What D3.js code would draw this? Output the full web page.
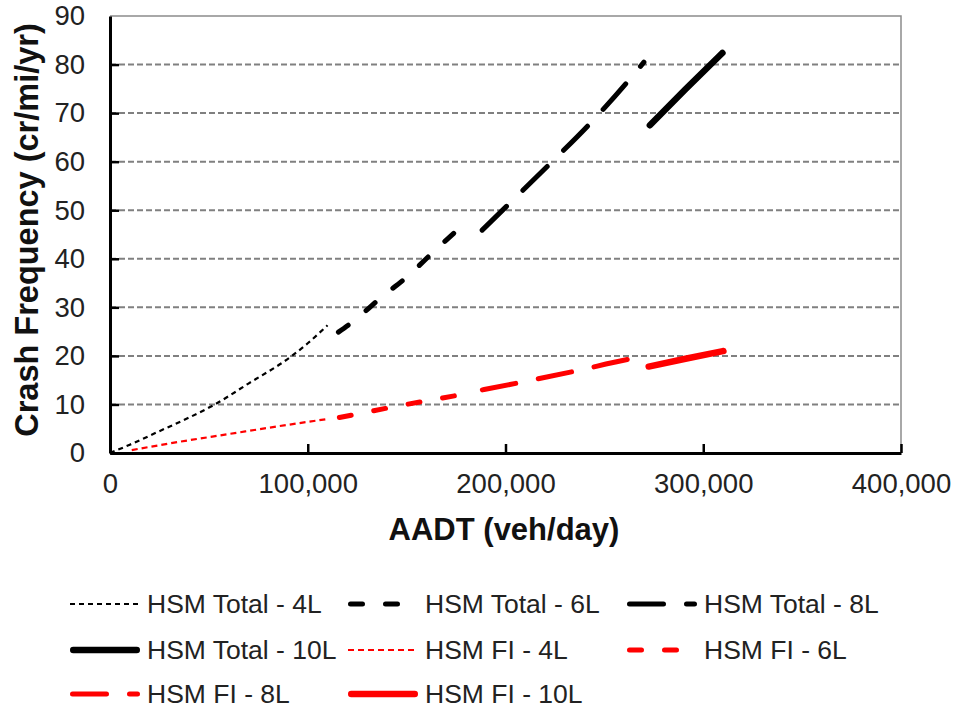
<!DOCTYPE html>
<html>
<head>
<meta charset="utf-8">
<script src="https://cdn.jsdelivr.net/npm/d3@7"></script>
<style>
  html, body { margin: 0; padding: 0; background: #fff; }
  svg { display: block; font-family: "Liberation Sans", Arial, sans-serif; }
</style>
</head>
<body>
<svg id="chart" width="959" height="710"></svg>
<script>
// ---- data (AADT in veh/day, crash frequency in cr/mi/yr) ----
const xTicks = [0, 100000, 200000, 300000, 400000];
const yTicks = [0, 10, 20, 30, 40, 50, 60, 70, 80, 90];

const seriesNames = ["HSM Total - 4L", "HSM Total - 6L", "HSM Total - 8L",
                     "HSM Total - 10L", "HSM FI - 4L", "HSM FI - 6L",
                     "HSM FI - 8L", "HSM FI - 10L"];

const total4L = [[0,0],[10000,1.7],[25000,4.5],[40000,7.3],[53000,10],[70000,14.3],[92000,20],[100000,22.6],[110000,26.3]];
const total6L = [[115500,24.9],[122700,27.0],[137000,32.0],[150500,36.4],[164000,41.6],[177400,46.6],[180000,47.6]];
const total8L = [[188200,45.9],[202000,51.4],[222800,59.7],[242400,67.7],[261400,76.3],[270000,80.5]];
const total10L = [[273000,67.5],[291000,74.9],[309700,82.4]];
const fi4L = [[11000,0.6],[35000,2.3],[60000,3.9],[85000,5.5],[110000,7.0]];
const fi6L = [[116000,7.3],[146000,9.7],[176000,11.9],[180000,12.2]];
const fi8L = [[188300,13.0],[212000,14.9],[234500,16.8],[262200,19.3],[270000,19.9]];
const fi10L = [[272400,17.8],[291000,19.4],[310200,21.0]];

const seriesData = [total4L, total6L, total8L, total10L, fi4L, fi6L, fi8L, fi10L];

// ---- styles ----
const styles = [
  { color: "#000", width: 2.2, dash: "5,4",   cap: "butt"  },
  { color: "#000", width: 5,   dash: "12,23", cap: "round" },
  { color: "#000", width: 5,   dash: "34,23", cap: "round" },
  { color: "#000", width: 6.5, dash: null,    cap: "round" },
  { color: "#f00", width: 2.2, dash: "6,4",   cap: "butt"  },
  { color: "#f00", width: 5,   dash: "12,23", cap: "round" },
  { color: "#f00", width: 5,   dash: "34,23", cap: "round" },
  { color: "#f00", width: 6.5, dash: null,    cap: "round" }
];

const svg = d3.select("#chart");
const pLeft = 110, pRight = 901, pTop = 16, pBottom = 453;

const x = d3.scaleLinear().domain([0, 400000]).range([pLeft, pRight]);
const y = d3.scaleLinear().domain([0, 90]).range([pBottom, pTop]);

// gridlines
svg.append("g").selectAll("line")
  .data(yTicks.filter(d => d > 0 && d < 90))
  .join("line")
  .attr("x1", pLeft).attr("x2", pRight)
  .attr("y1", d => y(d)).attr("y2", d => y(d))
  .attr("stroke", "#808080").attr("stroke-width", 2)
  .attr("stroke-dasharray", "6,3");

// plot border (top and right)
svg.append("path")
  .attr("d", `M${pLeft},${pTop}H${pRight}V${pBottom}`)
  .attr("fill", "none").attr("stroke", "#8c8c8c").attr("stroke-width", 1.5);

// axes
const xAxis = d3.axisBottom(x).tickValues(xTicks)
  .tickFormat(d3.format(",")).tickSizeInner(-9).tickSizeOuter(0).tickPadding(20);
const gx = svg.append("g").attr("transform", `translate(0,${pBottom})`).call(xAxis);
gx.select(".domain").attr("stroke", "#000").attr("stroke-width", 3);
gx.selectAll(".tick line").attr("stroke", "#000").attr("stroke-width", 2.5);
gx.selectAll(".tick text").attr("font-size", 27.5).attr("fill", "#222")
  .attr("font-family", "Liberation Sans, Arial, sans-serif");

const yAxis = d3.axisLeft(y).tickValues(yTicks)
  .tickSizeInner(-9).tickSizeOuter(0).tickPadding(25);
const gy = svg.append("g").attr("transform", `translate(${pLeft},0)`).call(yAxis);
gy.select(".domain").attr("stroke", "#000").attr("stroke-width", 3);
gy.selectAll(".tick line").attr("stroke", "#000").attr("stroke-width", 2.5);
gy.selectAll(".tick text").attr("font-size", 27.5).attr("fill", "#222")
  .attr("font-family", "Liberation Sans, Arial, sans-serif");
gy.selectAll(".tick").filter(d => d === 90).select("line").remove();

// axis titles
svg.append("text")
  .attr("x", 504).attr("y", 540)
  .attr("text-anchor", "middle")
  .attr("font-size", 31).attr("font-weight", "bold").attr("fill", "#111")
  .text("AADT (veh/day)");

svg.append("text")
  .attr("transform", "translate(38,230) rotate(-90)")
  .attr("text-anchor", "middle")
  .attr("font-size", 32.5).attr("font-weight", "bold").attr("fill", "#111")
  .text("Crash Frequency (cr/mi/yr)");

// series
const line = d3.line().x(d => x(d[0])).y(d => y(d[1])).curve(d3.curveMonotoneX);
svg.append("g").selectAll("path")
  .data(seriesData)
  .join("path")
  .attr("d", line)
  .attr("fill", "none")
  .attr("stroke", (d, i) => styles[i].color)
  .attr("stroke-width", (d, i) => styles[i].width)
  .attr("stroke-linecap", (d, i) => styles[i].cap)
  .attr("stroke-dasharray", (d, i) => styles[i].dash);

// legend
const colX = [70, 348, 627];
const rowY = [604, 650, 694];
const lg = svg.append("g").selectAll("g")
  .data(seriesNames)
  .join("g")
  .attr("transform", (d, i) => `translate(${colX[i % 3]},${rowY[Math.floor(i / 3)]})`);
lg.append("line")
  .attr("x1", (d, i) => styles[i].cap === "round" ? styles[i].width / 2 : 0)
  .attr("x2", (d, i) => 70 - (styles[i].cap === "round" ? styles[i].width / 2 : 0))
  .attr("y1", 0).attr("y2", 0)
  .attr("stroke", (d, i) => styles[i].color)
  .attr("stroke-width", (d, i) => styles[i].width)
  .attr("stroke-linecap", (d, i) => styles[i].cap)
  .attr("stroke-dasharray", (d, i) => styles[i].dash);
lg.append("text")
  .attr("x", 77).attr("y", 9)
  .attr("font-size", 26.5).attr("fill", "#222")
  .text(d => d);
</script>
</body>
</html>
